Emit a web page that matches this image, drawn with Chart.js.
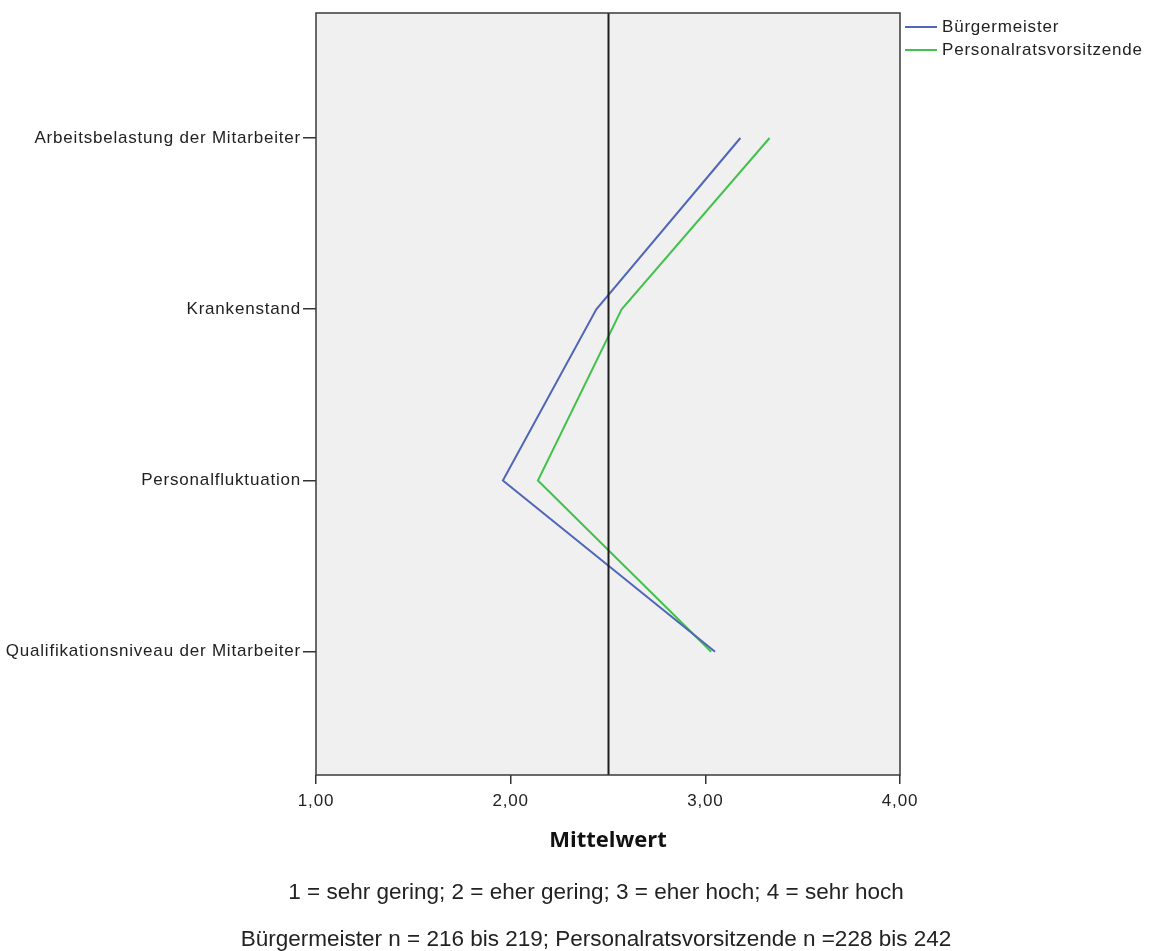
<!DOCTYPE html>
<html lang="de">
<head>
  <meta charset="UTF-8" />
  <title>Mittelwert</title>
  <script src="https://cdn.jsdelivr.net/npm/chart.js"></script>
  <style>
    html, body { margin: 0; padding: 0; background: #fff; }
    #wrap { width: 1155px; height: 951px; }
  </style>
</head>
<body>
  <div id="wrap"><canvas id="chart"></canvas></div>

  <script>
    const categories = [
      'Arbeitsbelastung der Mitarbeiter',
      'Krankenstand',
      'Personalfluktuation',
      'Qualifikationsniveau der Mitarbeiter'
    ];
    const buergermeister = [3.18, 2.44, 1.96, 3.05];
    const personalrat = [3.33, 2.57, 2.14, 3.03];
    const seriesNames = ['Bürgermeister', 'Personalratsvorsitzende'];
    const xTicks = [1, 2, 3, 4];
    const refValue = 2.5;
    const axisTitle = 'Mittelwert';
    const notes = [
      '1 = sehr gering; 2 = eher gering; 3 = eher hoch; 4 = sehr hoch',
      'Bürgermeister n = 216 bis 219; Personalratsvorsitzende n =228 bis 242'
    ];

    const colors = ['#5066b8', '#42c24c'];
    const baseFont = '"Liberation Sans", Arial, sans-serif';
    const toPoints = vals => vals.map((v, i) => ({ x: v, y: i }));

    const extras = {
      id: 'extras',
      beforeDraw(chart) {
        const { ctx, chartArea: a } = chart;
        // slightly spaced labels like the original export
        ctx.letterSpacing = '0.8px';
        ctx.save();
        ctx.fillStyle = '#f0f0f0';
        ctx.fillRect(a.left, a.top, a.right - a.left, a.bottom - a.top);
        ctx.restore();
      },
      afterDatasetsDraw(chart) {
        const { ctx, chartArea: a, scales } = chart;
        ctx.save();
        // reference line
        const rx = Math.round(scales.x.getPixelForValue(refValue)) + 0.5;
        ctx.strokeStyle = '#1e1e1e';
        ctx.lineWidth = 2;
        ctx.beginPath();
        ctx.moveTo(rx, a.top);
        ctx.lineTo(rx, a.bottom);
        ctx.stroke();
        // frame
        ctx.strokeStyle = '#3a3a3a';
        ctx.lineWidth = 1.5;
        ctx.strokeRect(a.left, a.top, a.right - a.left, a.bottom - a.top);

        // legend
        ctx.font = '17px ' + baseFont;
        ctx.textBaseline = 'middle';
        ctx.textAlign = 'left';
        seriesNames.forEach((name, i) => {
          const y = 27 + i * 23;
          ctx.strokeStyle = colors[i];
          ctx.lineWidth = 2;
          ctx.beginPath();
          ctx.moveTo(a.right + 5, y);
          ctx.lineTo(a.right + 37, y);
          ctx.stroke();
          ctx.fillStyle = '#222';
          ctx.fillText(name, a.right + 42, y);
        });

        // axis title
        ctx.letterSpacing = '0px';
        ctx.textAlign = 'center';
        ctx.fillStyle = '#111';
        ctx.font = 'bold 22px "Open Sans", "Liberation Sans", sans-serif';
        ctx.fillText(axisTitle, scales.x.getPixelForValue(refValue), 841);

        // notes
        ctx.font = '22.5px ' + baseFont;
        ctx.fillStyle = '#222';
        notes.forEach((t, i) => ctx.fillText(t, 596, 893 + i * 47));
        ctx.restore();
      }
    };

    new Chart(document.getElementById('chart'), {
      type: 'line',
      data: {
        datasets: [
          {
            label: seriesNames[0],
            data: toPoints(buergermeister),
            borderColor: colors[0],
            borderWidth: 2,
            pointRadius: 0,
            fill: false,
            tension: 0
          },
          {
            label: seriesNames[1],
            data: toPoints(personalrat),
            borderColor: colors[1],
            borderWidth: 2,
            pointRadius: 0,
            fill: false,
            tension: 0
          }
        ]
      },
      options: {
        responsive: true,
        maintainAspectRatio: false,
        animation: false,
        layout: { padding: { top: 13, right: 255, left: 0, bottom: 0 } },
        plugins: {
          legend: { display: false },
          tooltip: { enabled: false }
        },
        scales: {
          x: {
            type: 'linear',
            min: 1,
            max: 4,
            afterBuildTicks: s => { s.ticks = xTicks.map(v => ({ value: v })); },
            afterFit: s => { s.height = 176; },
            border: { display: false },
            grid: { drawOnChartArea: false, drawTicks: true, tickLength: 9, color: '#333', lineWidth: 1.5 },
            ticks: {
              padding: 7,
              color: '#222',
              font: { family: baseFont, size: 17 },
              callback: v => v.toFixed(2).replace('.', ',')
            }
          },
          y: {
            type: 'linear',
            reverse: true,
            min: -0.73,
            max: 3.72,
            afterBuildTicks: s => { s.ticks = categories.map((c, i) => ({ value: i })); },
            afterFit: s => { s.width = 316; },
            border: { display: false },
            grid: { drawOnChartArea: false, drawTicks: true, tickLength: 13, color: '#333', lineWidth: 1.5 },
            ticks: {
              padding: 2,
              color: '#222',
              font: { family: baseFont, size: 17 },
              callback: v => categories[v]
            }
          }
        }
      },
      plugins: [extras]
    });
  </script>
</body>
</html>
